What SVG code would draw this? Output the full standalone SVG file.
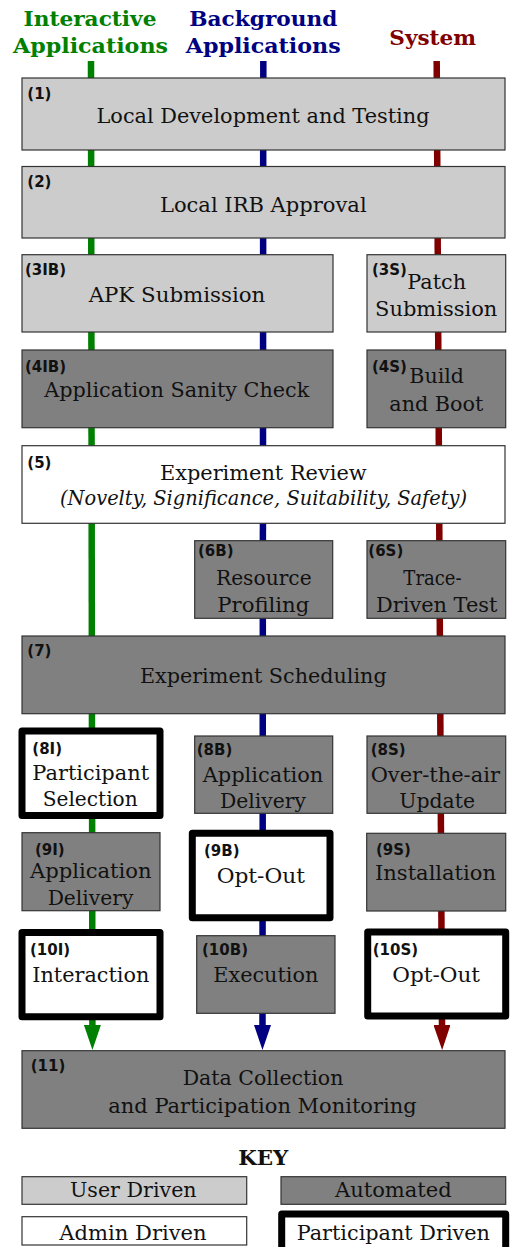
<svg xmlns="http://www.w3.org/2000/svg" width="514" height="1247" viewBox="0 0 514 1247">
<style>
.user{fill:#cccccc;stroke:#333333;stroke-width:1.2}
.auto{fill:#808080;stroke:#333333;stroke-width:1.2}
.admin{fill:#ffffff;stroke:#333333;stroke-width:1.2}
.part{fill:#ffffff;stroke:#000000;stroke-width:7;stroke-linejoin:round}
.t{font-family:"DejaVu Serif",serif;font-size:21px;fill:#111111;text-anchor:middle}
.ts{font-family:"DejaVu Serif",serif;font-size:21px;fill:#111111}
.it{font-family:"DejaVu Serif",serif;font-size:20px;font-style:italic;fill:#111111;text-anchor:middle}
.lb{font-family:"DejaVu Sans",sans-serif;font-size:15px;font-weight:bold;fill:#111111}
.hd{font-family:"DejaVu Serif",serif;font-size:21px;font-weight:bold;text-anchor:middle}
.lane{fill:none;stroke-width:6.5;stroke-linecap:butt}
</style>
<defs>
<marker id="ag" markerUnits="userSpaceOnUse" viewBox="0 0 25 17" markerWidth="25" markerHeight="17" refX="0" refY="8.5" orient="auto"><path d="M0,0 L25,8.5 L0,17 Z" fill="#008000"/></marker>
<marker id="ab" markerUnits="userSpaceOnUse" viewBox="0 0 25 17" markerWidth="25" markerHeight="17" refX="0" refY="8.5" orient="auto"><path d="M0,0 L25,8.5 L0,17 Z" fill="#000080"/></marker>
<marker id="ar" markerUnits="userSpaceOnUse" viewBox="0 0 25 17" markerWidth="25" markerHeight="17" refX="0" refY="8.5" orient="auto"><path d="M0,0 L25,8.5 L0,17 Z" fill="#800000"/></marker>
</defs>
<g id="headers">
<text class="hd" x="90" y="26" fill="#008000" textLength="133" lengthAdjust="spacingAndGlyphs">Interactive</text>
<text class="hd" x="90.5" y="52.7" fill="#008000" textLength="155" lengthAdjust="spacingAndGlyphs">Applications</text>
<text class="hd" x="263.3" y="26" fill="#000080" textLength="148" lengthAdjust="spacingAndGlyphs">Background</text>
<text class="hd" x="263.2" y="52.7" fill="#000080" textLength="155" lengthAdjust="spacingAndGlyphs">Applications</text>
<text class="hd" x="432.7" y="45" fill="#800000" textLength="86.7" lengthAdjust="spacingAndGlyphs">System</text>
</g>
<g id="connectors">
<line class="lane" x1="91" y1="61" x2="92.4" y2="1025" stroke="#008000" marker-end="url(#ag)"/>
<line class="lane" x1="263.3" y1="61" x2="262.5" y2="1025" stroke="#000080" marker-end="url(#ab)"/>
<line class="lane" x1="436.7" y1="61" x2="442" y2="1025" stroke="#800000" marker-end="url(#ar)"/>
</g>
<g id="n1"><rect class="user" x="22" y="78" width="483" height="72"/><text class="lb" x="27.3" y="98.5">(1)</text><text class="t" x="263" y="123" textLength="333" lengthAdjust="spacingAndGlyphs">Local Development and Testing</text></g>
<g id="n2"><rect class="user" x="22" y="166.5" width="483" height="71.5"/><text class="lb" x="27.3" y="186.5">(2)</text><text class="t" x="263.3" y="211.7" textLength="206.7" lengthAdjust="spacingAndGlyphs">Local IRB Approval</text></g>
<g id="n3IB"><rect class="user" x="22" y="254.7" width="311" height="77.3"/><text class="lb" x="25" y="274.5">(3IB)</text><text class="t" x="177" y="301.7" textLength="176.7" lengthAdjust="spacingAndGlyphs">APK Submission</text></g>
<g id="n3S"><rect class="user" x="367" y="254.7" width="138.7" height="77.3"/><text class="lb" x="372" y="274.5">(3S)</text><text class="ts" x="407.3" y="289" textLength="58.7" lengthAdjust="spacingAndGlyphs">Patch</text><text class="t" x="436.2" y="315.7" textLength="122.3" lengthAdjust="spacingAndGlyphs">Submission</text></g>
<g id="n4IB"><rect class="auto" x="22" y="350" width="311" height="77.7"/><text class="lb" x="25" y="371.5">(4IB)</text><text class="t" x="176.8" y="396.7" textLength="265" lengthAdjust="spacingAndGlyphs">Application Sanity Check</text></g>
<g id="n4S"><rect class="auto" x="367" y="350" width="138.7" height="77.7"/><text class="lb" x="372" y="371.5">(4S)</text><text class="ts" x="409.3" y="383.3" textLength="54.7" lengthAdjust="spacingAndGlyphs">Build</text><text class="t" x="436.3" y="410.7" textLength="94" lengthAdjust="spacingAndGlyphs">and Boot</text></g>
<g id="n5"><rect class="admin" x="22" y="445.7" width="483" height="77.6"/><text class="lb" x="27.3" y="468">(5)</text><text class="t" x="263.3" y="480" textLength="206.7" lengthAdjust="spacingAndGlyphs">Experiment Review</text><text class="it" x="263.5" y="505" textLength="407" lengthAdjust="spacingAndGlyphs">(Novelty, Significance, Suitability, Safety)</text></g>
<g id="n6B"><rect class="auto" x="194.7" y="540.7" width="138" height="77.6"/><text class="lb" x="198" y="556.4">(6B)</text><text class="t" x="263.8" y="585" textLength="95.7" lengthAdjust="spacingAndGlyphs">Resource</text><text class="t" x="263.3" y="611.7" textLength="92" lengthAdjust="spacingAndGlyphs">Profiling</text></g>
<g id="n6S"><rect class="auto" x="367" y="540.7" width="138.7" height="77.6"/><text class="lb" x="368.3" y="556.4">(6S)</text><text class="t" x="432.5" y="585" textLength="58.3" lengthAdjust="spacingAndGlyphs">Trace-</text><text class="t" x="436.7" y="611.7" textLength="121.3" lengthAdjust="spacingAndGlyphs">Driven Test</text></g>
<g id="n7"><rect class="auto" x="22" y="636" width="483" height="77.7"/><text class="lb" x="27.3" y="656.4">(7)</text><text class="t" x="263.3" y="682.7" textLength="246.7" lengthAdjust="spacingAndGlyphs">Experiment Scheduling</text></g>
<g id="n8I"><rect class="part" x="22" y="731" width="138" height="84.5"/><text class="lb" x="32.3" y="754">(8I)</text><text class="t" x="90.7" y="780" textLength="116.7" lengthAdjust="spacingAndGlyphs">Participant</text><text class="t" x="90.2" y="806" textLength="95" lengthAdjust="spacingAndGlyphs">Selection</text></g>
<g id="n8B"><rect class="auto" x="194.7" y="736" width="138" height="77.3"/><text class="lb" x="196.7" y="754.5">(8B)</text><text class="t" x="263" y="781.7" textLength="120.7" lengthAdjust="spacingAndGlyphs">Application</text><text class="t" x="263" y="808.3" textLength="86" lengthAdjust="spacingAndGlyphs">Delivery</text></g>
<g id="n8S"><rect class="auto" x="367" y="736" width="138.7" height="77.3"/><text class="lb" x="370.7" y="754.5">(8S)</text><text class="t" x="435.3" y="781.7" textLength="129.3" lengthAdjust="spacingAndGlyphs">Over-the-air</text><text class="t" x="437.2" y="808.3" textLength="75.7" lengthAdjust="spacingAndGlyphs">Update</text></g>
<g id="n9I"><rect class="auto" x="22" y="832.7" width="138" height="78"/><text class="lb" x="35" y="854.7">(9I)</text><text class="t" x="90.8" y="878.3" textLength="121.7" lengthAdjust="spacingAndGlyphs">Application</text><text class="t" x="90.5" y="905" textLength="85.7" lengthAdjust="spacingAndGlyphs">Delivery</text></g>
<g id="n9B"><rect class="part" x="192.3" y="833.3" width="137.7" height="84.5"/><text class="lb" x="204" y="856.4">(9B)</text><text class="t" x="260.8" y="883.3" textLength="88.3" lengthAdjust="spacingAndGlyphs">Opt-Out</text></g>
<g id="n9S"><rect class="auto" x="366.7" y="833.3" width="139" height="77.7"/><text class="lb" x="376" y="854.7">(9S)</text><text class="t" x="435.5" y="880" textLength="121" lengthAdjust="spacingAndGlyphs">Installation</text></g>
<g id="n10I"><rect class="part" x="22" y="932.5" width="138" height="84.2"/><text class="lb" x="30" y="954.7">(10I)</text><text class="t" x="90.8" y="981.7" textLength="117" lengthAdjust="spacingAndGlyphs">Interaction</text></g>
<g id="n10B"><rect class="auto" x="196.7" y="935.7" width="138.3" height="77.6"/><text class="lb" x="202" y="954.5">(10B)</text><text class="t" x="265.8" y="981.7" textLength="105" lengthAdjust="spacingAndGlyphs">Execution</text></g>
<g id="n10S"><rect class="part" x="367.7" y="932" width="138" height="84"/><text class="lb" x="372.7" y="954.5">(10S)</text><text class="t" x="436.2" y="981.7" textLength="87.7" lengthAdjust="spacingAndGlyphs">Opt-Out</text></g>
<g id="n11"><rect class="auto" x="22" y="1050.7" width="483" height="77.6"/><text class="lb" x="30.7" y="1071.4">(11)</text><text class="t" x="263" y="1085" textLength="160.7" lengthAdjust="spacingAndGlyphs">Data Collection</text><text class="t" x="262.5" y="1113" textLength="308.3" lengthAdjust="spacingAndGlyphs">and Participation Monitoring</text></g>
<g id="key">
<text class="hd" x="263.3" y="1165" fill="#111111" textLength="50" lengthAdjust="spacingAndGlyphs">KEY</text>
<rect class="user" x="22" y="1176.7" width="224.7" height="27.6"/><text class="t" x="133.3" y="1196.7" textLength="126.7" lengthAdjust="spacingAndGlyphs">User Driven</text>
<rect class="auto" x="281" y="1176.7" width="224.7" height="27.6"/><text class="t" x="393.3" y="1196.7" textLength="116.7" lengthAdjust="spacingAndGlyphs">Automated</text>
<rect class="admin" x="22" y="1216.7" width="224.7" height="28.3"/><text class="t" x="133" y="1240" textLength="147.3" lengthAdjust="spacingAndGlyphs">Admin Driven</text>
<rect class="part" x="281.7" y="1214" width="224" height="42"/><text class="t" x="393.3" y="1240" textLength="193.3" lengthAdjust="spacingAndGlyphs">Participant Driven</text>
</g>
</svg>
